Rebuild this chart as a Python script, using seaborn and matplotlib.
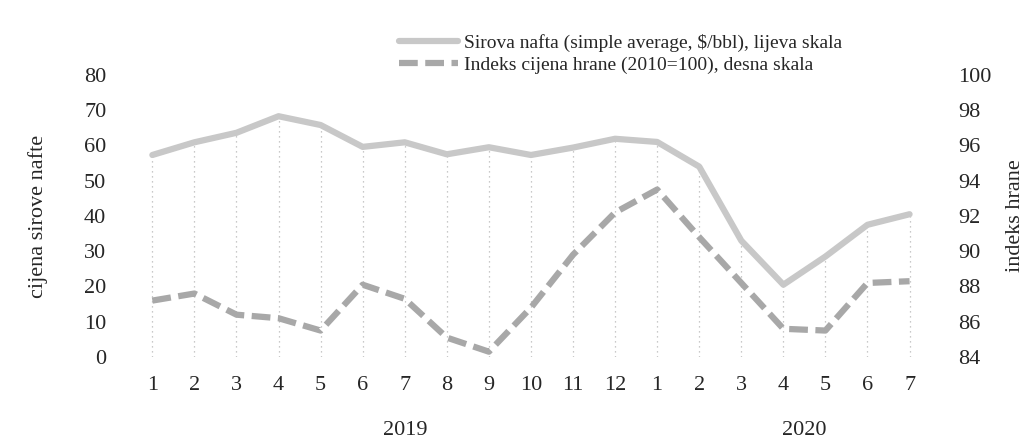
import numpy as np
import pandas as pd
import matplotlib
matplotlib.use("Agg")
import matplotlib.pyplot as plt
import seaborn as sns

# Podaci (ocitano sa slike)
months = ["1", "2", "3", "4", "5", "6", "7", "8", "9", "10", "11", "12",
          "1", "2", "3", "4", "5", "6", "7"]
oil = [57.3, 60.9, 63.6, 68.3, 65.8, 59.6, 60.9, 57.5, 59.5, 57.3, 59.4, 61.9,
       61.0, 54.0, 33.0, 20.5, 28.5, 37.5, 40.5]
food = [87.2, 87.6, 86.4, 86.2, 85.5, 88.1, 87.3, 85.1, 84.3, 86.8, 89.8, 92.2,
        93.5, 90.8, 88.2, 85.6, 85.5, 88.2, 88.3]
years = ["2019", "2020"]
year_pos = [6, 15.5]

oil_label = "Sirova nafta (simple average, $/bbl), lijeva skala"
food_label = "Indeks cijena hrane (2010=100), desna skala"

df = pd.DataFrame({"x": np.arange(len(months)), "oil": oil, "food": food})

sns.set_style("white")
plt.rcParams["font.family"] = ["Liberation Serif", "DejaVu Serif"]

fig = plt.figure(figsize=(10.34, 4.41), dpi=100)
ax = fig.add_axes([0.127, 0.1905, 0.773, 0.6395])
ax2 = ax.twinx()

# drop lines od krivulje nafte do osi
ax.vlines(df["x"], 0, df["oil"], colors="#b8b8b8", linestyles=(0, (1, 3)), lw=0.9, zorder=1)

sns.lineplot(data=df, x="x", y="oil", ax=ax, color="#c8c8c8", lw=4.5,
             label=oil_label, legend=False, zorder=3)
sns.lineplot(data=df, x="x", y="food", ax=ax2, color="#a8a8a8", lw=4.5,
             label=food_label, legend=False, zorder=3)
ax2.lines[0].set_dashes((3, 1.2))

ax.set_xlim(-0.5, len(months) - 0.5)
ax.set_ylim(0, 80)
ax.set_yticks(range(0, 81, 10))
ax2.set_ylim(84, 100)
ax2.set_yticks(range(84, 101, 2))
ax.set_xticks(df["x"])
ax.set_xticklabels(months)

for a in (ax, ax2):
    for s in a.spines.values():
        s.set_visible(False)
    a.tick_params(length=0, labelsize=16)
ax.tick_params(axis="x", pad=14)
ax.tick_params(axis="y", pad=18)
ax2.tick_params(axis="y", pad=20)

ax.set_xlabel("")
ax.set_ylabel("cijena sirove nafte", fontsize=16, labelpad=26)
ax2.set_ylabel("indeks hrane", fontsize=16, labelpad=10)

for y, p in zip(years, year_pos):
    ax.text(p, -0.26, y, transform=ax.get_xaxis_transform(), ha="center",
            va="center", fontsize=16)

h1, l1 = ax.get_legend_handles_labels()
h2, l2 = ax2.get_legend_handles_labels()
fig.legend(h1 + h2, l1 + l2, loc="upper left", bbox_to_anchor=(0.375, 0.95),
           frameon=False, fontsize=14, handlelength=3, handletextpad=0.3,
           labelspacing=0.25, borderaxespad=0.2)

fig.savefig("out.png", dpi=100)
